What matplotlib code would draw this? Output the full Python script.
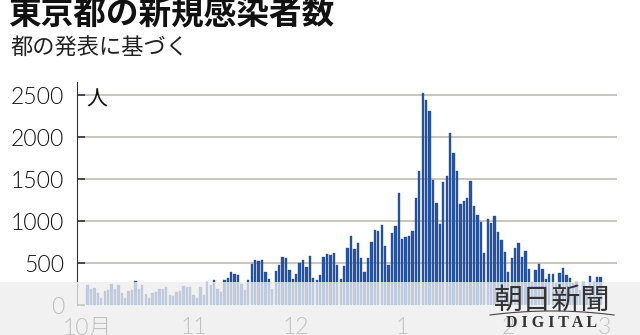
import matplotlib
matplotlib.use('Agg')
import matplotlib.pyplot as plt
from matplotlib.patches import Rectangle
from matplotlib.lines import Line2D
import numpy as np

# daily new cases, Tokyo (Oct 1 - Feb 28)
oct_cases = [235, 196, 207, 143, 78, 170, 177, 248, 187, 235, 146, 78, 166, 177, 284, 185,
             235, 132, 78, 139, 150, 186, 186, 215, 124, 102, 158, 171, 221, 215, 215]
nov_cases = [116, 87, 209, 122, 269, 242, 294, 189, 157, 293, 317, 393, 374, 352, 255, 180,
             298, 493, 534, 522, 539, 391, 314, 186, 401, 481, 570, 561, 418, 311]
dec_cases = [372, 500, 533, 449, 584, 327, 299, 352, 572, 602, 595, 621, 480, 305, 460, 678,
             822, 664, 736, 556, 392, 563, 748, 888, 884, 949, 708, 481, 856, 944, 1337]
jan_cases = [783, 814, 816, 884, 1278, 1591, 2520, 2440, 2310, 1494, 1219, 970, 1460, 1540,
             2044, 1809, 1592, 1204, 1240, 1274, 1471, 1175, 1070, 986, 618, 1026, 973, 1064,
             868, 769, 633]
feb_cases = [393, 556, 676, 734, 577, 639, 429, 276, 412, 491, 434, 307, 369, 371, 266, 378,
             445, 353, 327, 266, 272, 178, 275, 213, 340, 270, 337, 329]

month_labels = ['10月', '11', '12', '1', '2', '3']
y_ticks = [0, 500, 1000, 1500, 2000, 2500]

plt.rcParams['font.family'] = ['Lato', 'Noto Sans CJK JP', 'DejaVu Sans']
plt.rcParams['font.weight'] = 300
jp = ['Noto Sans CJK JP', 'DejaVu Sans']

cases = oct_cases + nov_cases + dec_cases + jan_cases + feb_cases
days = np.arange(len(cases))
month_starts = np.cumsum([0, len(oct_cases), len(nov_cases), len(dec_cases),
                          len(jan_cases), len(feb_cases)])

W, H = 640, 335
fig = plt.figure(figsize=(6.4, 3.35), dpi=100)
ax = fig.add_axes([77 / W, 30 / H, 540 / W, 223 / H])

ax.bar(days, cases, width=0.68, color='#2654a6', edgecolor='#1a4290', linewidth=0.25, zorder=2)
ax.set_xlim(-3.1, 154.8)
ax.set_ylim(0, 2655)

ax.set_yticks(y_ticks)
ax.yaxis.grid(True, color='#c4c1b7', lw=1.3, zorder=1)
ax.yaxis.get_gridlines()[0].set_visible(False)
ax.tick_params(axis='y', direction='in', length=6, width=1.2, color='#333',
               labelsize=16.5, pad=9, labelcolor='#111')
ax.set_xticks(month_starts)
ax.set_xticklabels(month_labels)
ax.tick_params(axis='x', length=0, labelsize=16.5, pad=9, labelcolor='#222')
for s in ['top', 'right', 'bottom']:
    ax.spines[s].set_visible(False)
ax.spines['left'].set_color('#333')
ax.set_axisbelow(True)

# pale band at the bottom
fig.add_artist(Rectangle((0, 0), 1, (H - 282) / H, transform=fig.transFigure,
                         facecolor='#eeeeee', edgecolor='none', alpha=0.78, zorder=10))

fig.text(8 / W, 1 - 24 / H, '東京都の新規感染者数', fontsize=23.5, fontweight='bold',
         family=jp, va='baseline', color='#111')
fig.text(10 / W, 1 - 55 / H, '都の発表に基づく', fontsize=16, family=jp,
         fontweight='normal', va='baseline', color='#222')
fig.text(86 / W, 1 - 106 / H, '人', fontsize=15, family=jp, fontweight='normal',
         va='baseline', color='#111')

# logo
fig.text(552 / W, 1 - 310 / H, '朝日新聞', fontsize=21, family=jp, fontweight='normal',
         ha='center', va='baseline', color='#333', zorder=11)
fig.text(552 / W, 1 - 327 / H, 'D I G I T A L', fontsize=11.5, family='Liberation Serif',
         fontweight='bold', ha='center', va='baseline', color='#333', zorder=11)
t = np.linspace(-1, 1, 60)
fig.add_artist(Line2D((552 + 62 * t) / W, 1 - (311 + 4 * t ** 2) / H,
                      transform=fig.transFigure, color='#444', lw=0.8, zorder=11))

fig.savefig('out.png', dpi=100)
